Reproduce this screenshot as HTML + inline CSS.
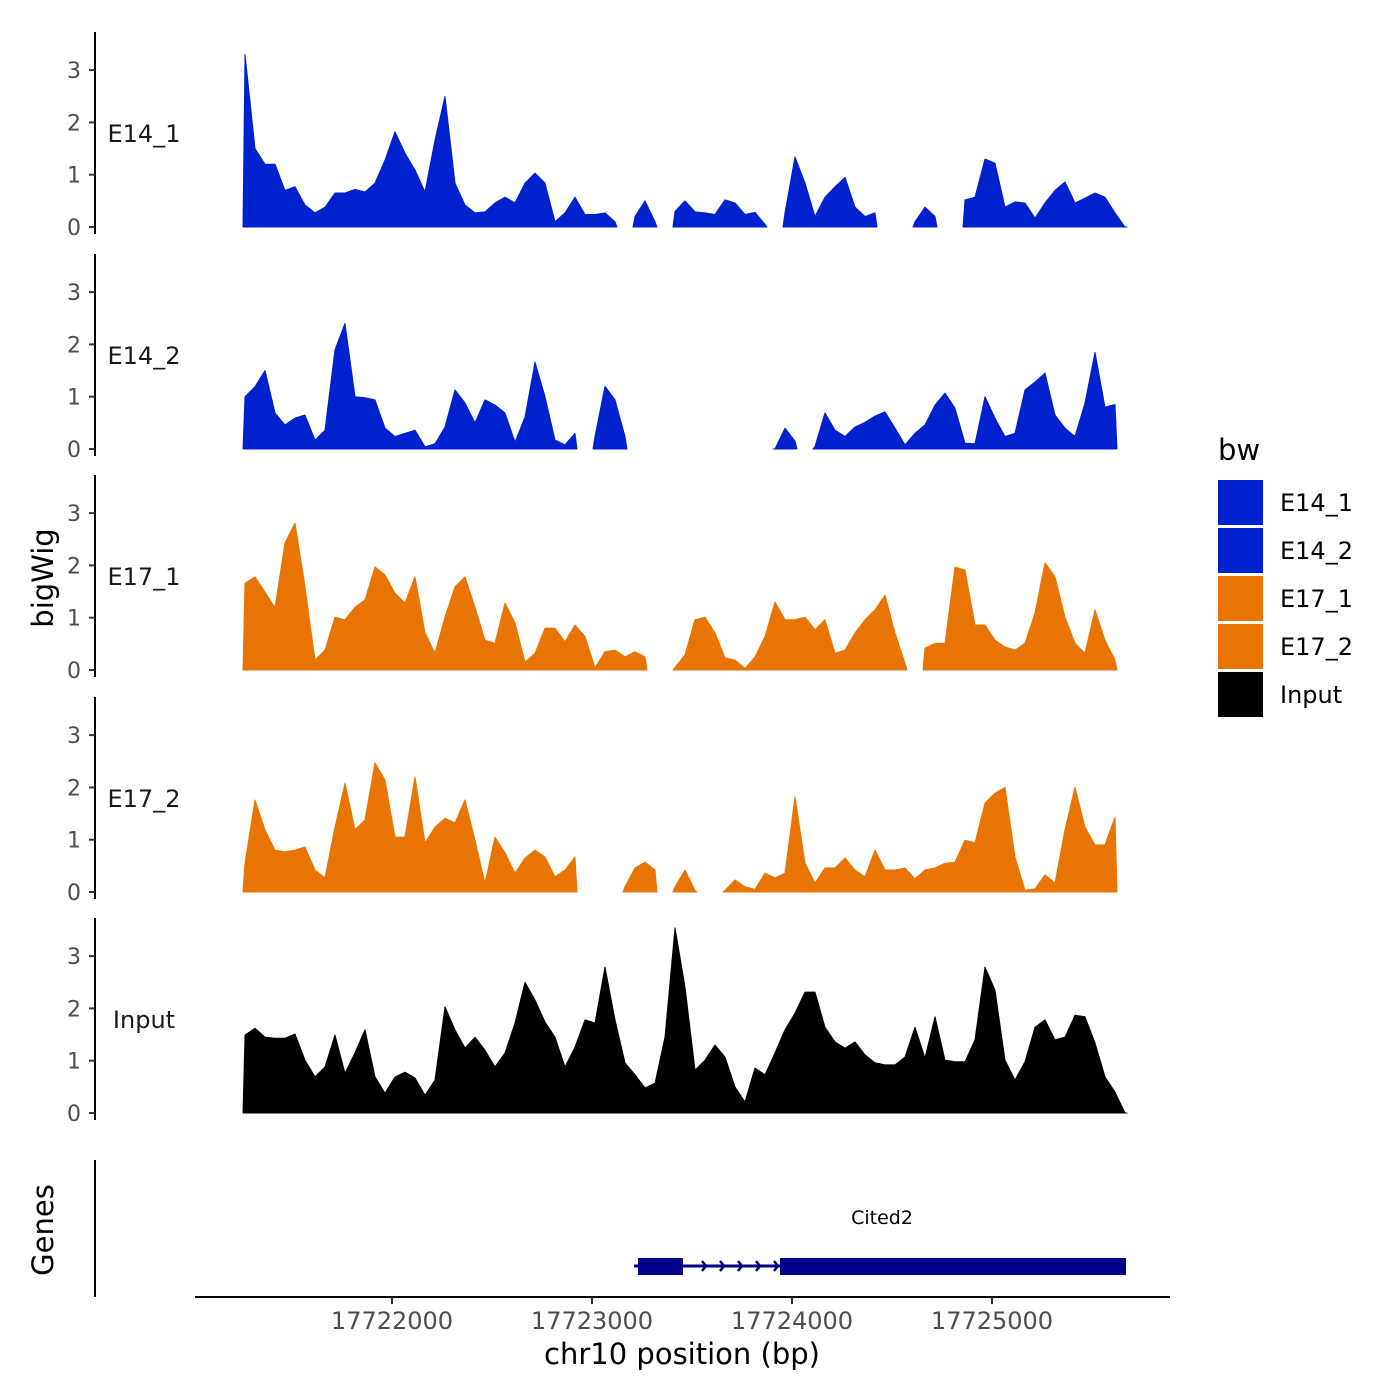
<!DOCTYPE html>
<html><head><meta charset="utf-8"><style>
html,body{margin:0;padding:0;background:#fff;}
svg{display:block;font-family:"DejaVu Sans","Liberation Sans",sans-serif;}
</style></head><body>
<svg id="chart" width="1400" height="1400" viewBox="0 0 1400 1400" xmlns="http://www.w3.org/2000/svg">
<rect width="1400" height="1400" fill="#fff"/>
<g id="tracks"></g>
<text x="0" y="0" transform="translate(53,578) rotate(-90)" text-anchor="middle" font-size="29" fill="#000">bigWig</text>
<text x="0" y="0" transform="translate(53,1230) rotate(-90)" text-anchor="middle" font-size="29" fill="#000">Genes</text>
<line x1="95" y1="1160" x2="95" y2="1297" stroke="#000" stroke-width="2"/>
<g id="genes"></g>
<line x1="195" y1="1297" x2="1170" y2="1297" stroke="#000" stroke-width="2"/>
<g id="xaxis"></g>
<text x="682" y="1364" text-anchor="middle" font-size="29" fill="#000">chr10 position (bp)</text>
<g>
<text x="1218" y="460" font-size="29" fill="#000">bw</text>
<g id="legend"></g>
</g>
</svg>
<script>
const trackNames = ["E14_1","E14_2","E17_1","E17_2","Input"];
const binStart = 17721265;
const binStep = 50;
const e14_1 = [3.3,1.5,1.2,1.2,0.7,0.77,0.42,0.27,0.38,0.65,0.65,0.72,0.67,0.84,1.28,1.82,1.41,1.09,0.67,1.66,2.5,0.84,0.42,0.27,0.29,0.46,0.57,0.46,0.84,1.03,0.84,0.1,0.27,0.57,0.24,0.24,0.27,0.1,null,0.2,0.5,0.1,null,0.3,0.5,0.29,0.27,0.24,0.52,0.46,0.24,0.28,0.05,null,0.27,1.34,0.84,0.2,0.57,0.77,0.95,0.38,0.2,0.27,null,null,null,0.1,0.38,0.2,null,null,0.52,0.57,1.3,1.22,0.38,0.48,0.46,0.17,0.46,0.7,0.86,0.46,0.55,0.65,0.57,0.27,0];
const e14_2 = [1.0,1.19,1.5,0.69,0.46,0.59,0.65,0.17,0.36,1.9,2.4,1.0,0.98,0.94,0.4,0.24,0.3,0.36,0.04,0.1,0.42,1.13,0.88,0.5,0.94,0.84,0.69,0.13,0.61,1.66,1.0,0.17,0.08,0.3,null,0.24,1.2,0.94,0.24,null,null,null,null,null,null,null,null,null,null,null,null,null,null,0,0.4,0.15,null,0.05,0.69,0.36,0.24,0.42,0.51,0.63,0.71,0.4,0.08,0.3,0.46,0.84,1.07,0.78,0.11,0.1,1.0,0.59,0.24,0.3,1.13,1.28,1.45,0.65,0.4,0.24,0.88,1.85,0.8,0.85,null];
const e17_1 = [1.66,1.78,1.49,1.19,2.43,2.81,1.59,0.19,0.38,1.01,0.96,1.2,1.34,1.97,1.82,1.47,1.28,1.78,0.71,0.32,1.01,1.59,1.78,1.2,0.57,0.51,1.28,0.9,0.15,0.32,0.8,0.8,0.54,0.86,0.64,0.04,0.35,0.38,0.25,0.35,0.25,null,null,0.05,0.29,0.96,1.01,0.71,0.23,0.19,0.03,0.25,0.64,1.3,0.96,0.96,1.01,0.77,0.96,0.32,0.38,0.71,0.96,1.15,1.43,0.71,0.13,null,0.42,0.51,0.51,1.97,1.91,0.86,0.86,0.57,0.44,0.38,0.51,1.09,2.05,1.78,1.01,0.51,0.32,1.15,0.57,0.19,null];
const e17_2 = [0.55,1.76,1.19,0.8,0.77,0.8,0.86,0.42,0.27,1.24,2.08,1.19,1.38,2.47,2.14,1.05,1.05,2.2,0.94,1.24,1.41,1.32,1.76,0.99,0.17,1.05,0.75,0.36,0.65,0.8,0.67,0.29,0.42,0.67,null,null,null,null,0.1,0.46,0.57,0.42,null,0.1,0.42,0.03,null,null,0.03,0.23,0.1,0.05,0.36,0.27,0.36,1.82,0.55,0.17,0.46,0.46,0.65,0.42,0.29,0.8,0.42,0.42,0.46,0.25,0.42,0.46,0.55,0.57,0.99,0.94,1.7,1.89,2.0,0.67,0.03,0.06,0.33,0.17,1.19,2.0,1.24,0.9,0.9,1.43,null];
const input = [1.49,1.62,1.45,1.43,1.43,1.51,1.01,0.69,0.88,1.49,0.76,1.15,1.59,0.69,0.38,0.69,0.78,0.67,0.34,0.63,2.03,1.59,1.24,1.45,1.2,0.88,1.15,1.72,2.5,2.16,1.74,1.45,0.88,1.26,1.78,1.72,2.79,1.78,0.96,0.73,0.48,0.57,1.45,3.54,2.41,0.82,1.01,1.3,1.07,0.5,0.21,0.86,0.73,1.15,1.59,1.91,2.31,2.31,1.64,1.36,1.24,1.36,1.11,0.96,0.92,0.92,1.07,1.64,1.05,1.84,1.01,0.98,0.98,1.4,2.79,2.35,1.01,0.63,0.98,1.64,1.78,1.4,1.45,1.87,1.84,1.34,0.69,0.4,0];
const seriesValues = [e14_1,e14_2,e17_1,e17_2,input];
const yTicks = [0,1,2,3];
const xTicks = [17722000,17723000,17724000,17725000];
const legendLabels = ["E14_1","E14_2","E17_1","E17_2","Input"];
const geneName = "Cited2";
const geneStart = 17723230;
const geneEnd = 17725670;
const exons = [[17723230,17723455],[17723940,17725670]];

const colors = ["#0021CE","#0021CE","#E87503","#E87503","#000000"];
const NS = "http://www.w3.org/2000/svg";
function mk(tag, attrs, parent){const e=document.createElementNS(NS,tag);for(const k in attrs)e.setAttribute(k,attrs[k]);parent.appendChild(e);return e;}
function xScale(bp){return 392 + (bp-17722000)/5;}
const zeroY = [227,449,670,892,1113];
const unit = 52.3;
function yScale(t,v){return zeroY[t]-v*unit;}

const tracksG = document.getElementById('tracks');
for(let t=0;t<5;t++){
  const g = mk('g',{},tracksG);
  
  
  const axis = mk('line',{x1:95,y1:zeroY[t]-195,x2:95,y2:zeroY[t]+7,stroke:'#000','stroke-width':2},g);
  
  
  yTicks.forEach(v=>{
    const y=yScale(t,v);
    const tk = mk('line',{x1:89,y1:y,x2:95,y2:y,stroke:'#333','stroke-width':2},g);
    
    
    const tl = mk('text',{x:81,y:y+8,'text-anchor':'end','font-size':22,fill:'#4d4d4d'},g);
    tl.textContent = v;
    
    
  });
  const lab = mk('text',{x:144,y:zeroY[t]-85,'text-anchor':'middle','font-size':24,fill:'#1a1a1a'},g);
  lab.textContent = trackNames[t];
  
  
  const vals = seriesValues[t];
  let seg=[];
  const flush=()=>{
    if(seg.length){
      const x0=xScale(binStart+seg[0][0]*binStep), x1=xScale(binStart+seg[seg.length-1][0]*binStep);
      let d='M'+(x0-2)+','+zeroY[t];
      seg.forEach(([i,v])=>{d+=' L'+xScale(binStart+i*binStep)+','+yScale(t,v);});
      d+=' L'+(x1+2)+','+zeroY[t]+' Z';
      const p=mk('path',{d:d,fill:colors[t],'stroke':colors[t],'stroke-width':1,'stroke-linejoin':'round'},g);
      
      
    }
    seg=[];
  };
  vals.forEach((v,i)=>{ if(v===null){flush();} else seg.push([i,v]); });
  flush();
}

const xg=document.getElementById('xaxis');
xTicks.forEach(bp=>{
  const x=xScale(bp);
  const tk=mk('line',{x1:x,y1:1297,x2:x,y2:1304,stroke:'#333','stroke-width':2},xg);
  
  
  const tl=mk('text',{x:x,y:1329,'text-anchor':'middle','font-size':24,fill:'#4d4d4d'},xg);
  tl.textContent=bp;
  
  
});

const gg=document.getElementById('genes');
const gl=mk('line',{x1:xScale(geneStart)-4,y1:1266,x2:xScale(geneEnd),y2:1266,stroke:'#00008B','stroke-width':3},gg);


for(let bp=17723570; bp<17723940; bp+=90){
  const x=xScale(bp);
  const a=mk('path',{d:'M'+(x-4)+',1261 L'+x+',1266 L'+(x-4)+',1271',stroke:'#00008B','stroke-width':2.5,fill:'none'},gg);
  
  
}
exons.forEach(e=>{
  const r=mk('rect',{x:xScale(e[0]),y:1258,width:xScale(e[1])-xScale(e[0]),height:17,fill:'#00008B'},gg);
  
  
});
const gt=mk('text',{x:882,y:1224,'text-anchor':'middle','font-size':19,fill:'#000'},gg);
gt.textContent=geneName;



const lg=document.getElementById('legend');
legendLabels.forEach((lbl,i)=>{
  const y=480+i*48;
  const r=mk('rect',{x:1218,y:y,width:45,height:45,fill:colors[i]},lg);
  
  
  const t=mk('text',{x:1280,y:y+31,'font-size':24,fill:'#000'},lg);
  t.textContent=lbl;
  
  
});
</script>
</body></html>
